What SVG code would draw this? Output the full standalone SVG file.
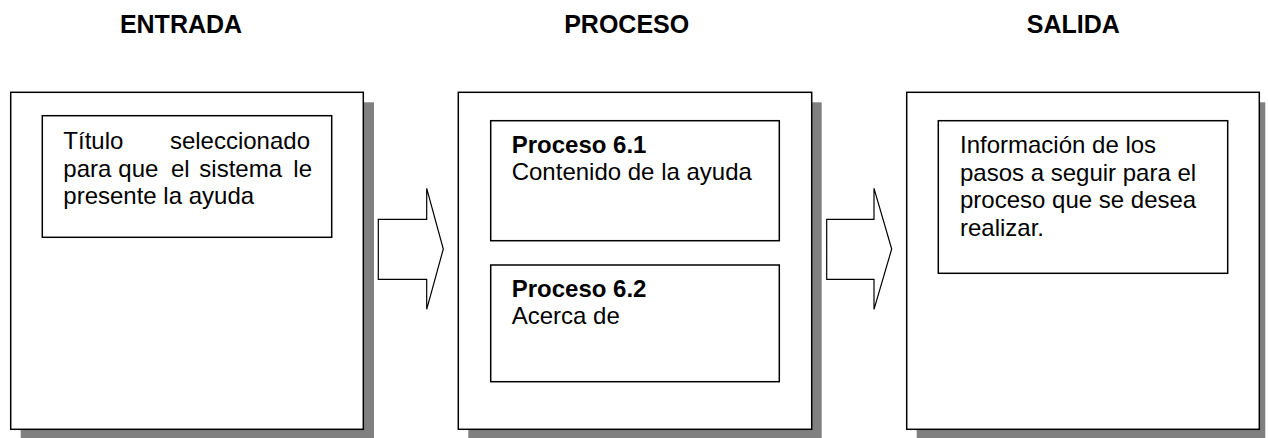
<svg xmlns="http://www.w3.org/2000/svg" width="1268" height="438" viewBox="0 0 1268 438">
<style>
.shadow{fill:#808080;stroke:none}
.outer{fill:#fff;stroke:#000;stroke-width:1.5}
.inner{fill:#fff;stroke:#000;stroke-width:1.5}
.arrow{fill:#fff;stroke:#000;stroke-width:1.2;stroke-linejoin:miter}
.h{font-family:"Liberation Sans",Arial,sans-serif;font-weight:bold;font-size:25px;fill:#000;text-anchor:middle}
.t{font-family:"Liberation Sans",Arial,sans-serif;font-size:24px;fill:#000}
.b{font-weight:bold}
</style>
<rect width="1268" height="438" fill="#fff"/>
<g id="headings">
<text class="h" x="181" y="33.3">ENTRADA</text>
<text class="h" x="626.7" y="33.3">PROCESO</text>
<text class="h" x="1073.3" y="33.3">SALIDA</text>
</g>
<g id="entrada">
<rect class="shadow" x="20.7" y="102.3" width="353.3" height="337"/>
<rect class="outer" x="10.7" y="92.3" width="352.6" height="337"/>
<rect class="inner" x="42.3" y="115.7" width="289.4" height="121.6"/>
<text class="t" y="149"><tspan x="63.3">Título</tspan><tspan x="310" text-anchor="end">seleccionado</tspan></text>
<text class="t" y="176.7"><tspan x="63.3">para</tspan><tspan x="118.3">que</tspan><tspan x="171">el</tspan><tspan x="199.3">sistema</tspan><tspan x="293.3">le</tspan></text>
<text class="t" x="63.3" y="204.3">presente la ayuda</text>
</g>
<g id="proceso">
<rect class="shadow" x="468.3" y="102.3" width="353.4" height="337"/>
<rect class="outer" x="458.3" y="92.3" width="353.4" height="337"/>
<g id="proceso61">
<rect class="inner" x="490.7" y="120.7" width="288.6" height="120"/>
<text class="t b" x="511.7" y="152.7">Proceso 6.1</text>
<text class="t" x="511.7" y="180">Contenido de la ayuda</text>
</g>
<g id="proceso62">
<rect class="inner" x="490.7" y="265" width="288.6" height="116.7"/>
<text class="t b" x="511.7" y="296.7">Proceso 6.2</text>
<text class="t" x="511.7" y="324.3">Acerca de</text>
</g>
</g>
<g id="salida">
<rect class="shadow" x="916.7" y="102.3" width="348.6" height="337"/>
<rect class="outer" x="906.7" y="92.3" width="352.6" height="337"/>
<rect class="inner" x="938.3" y="120.7" width="289.4" height="152.6"/>
<text class="t" x="960" y="153.3">Información de los</text>
<text class="t" x="960" y="180.8">pasos a seguir para el</text>
<text class="t" x="960" y="208.3">proceso que se desea</text>
<text class="t" x="960" y="235.8">realizar.</text>
</g>
<g id="connectors">
<polygon class="arrow" points="378.3,219.3 426.7,219.3 426.7,188.3 443.3,249 426.7,309.3 426.7,279.3 378.3,279.3"/>
<polygon class="arrow" points="826.7,219.3 874,219.3 874,188.3 891.7,249 874,309.3 874,279.3 826.7,279.3"/>
</g>
</svg>
